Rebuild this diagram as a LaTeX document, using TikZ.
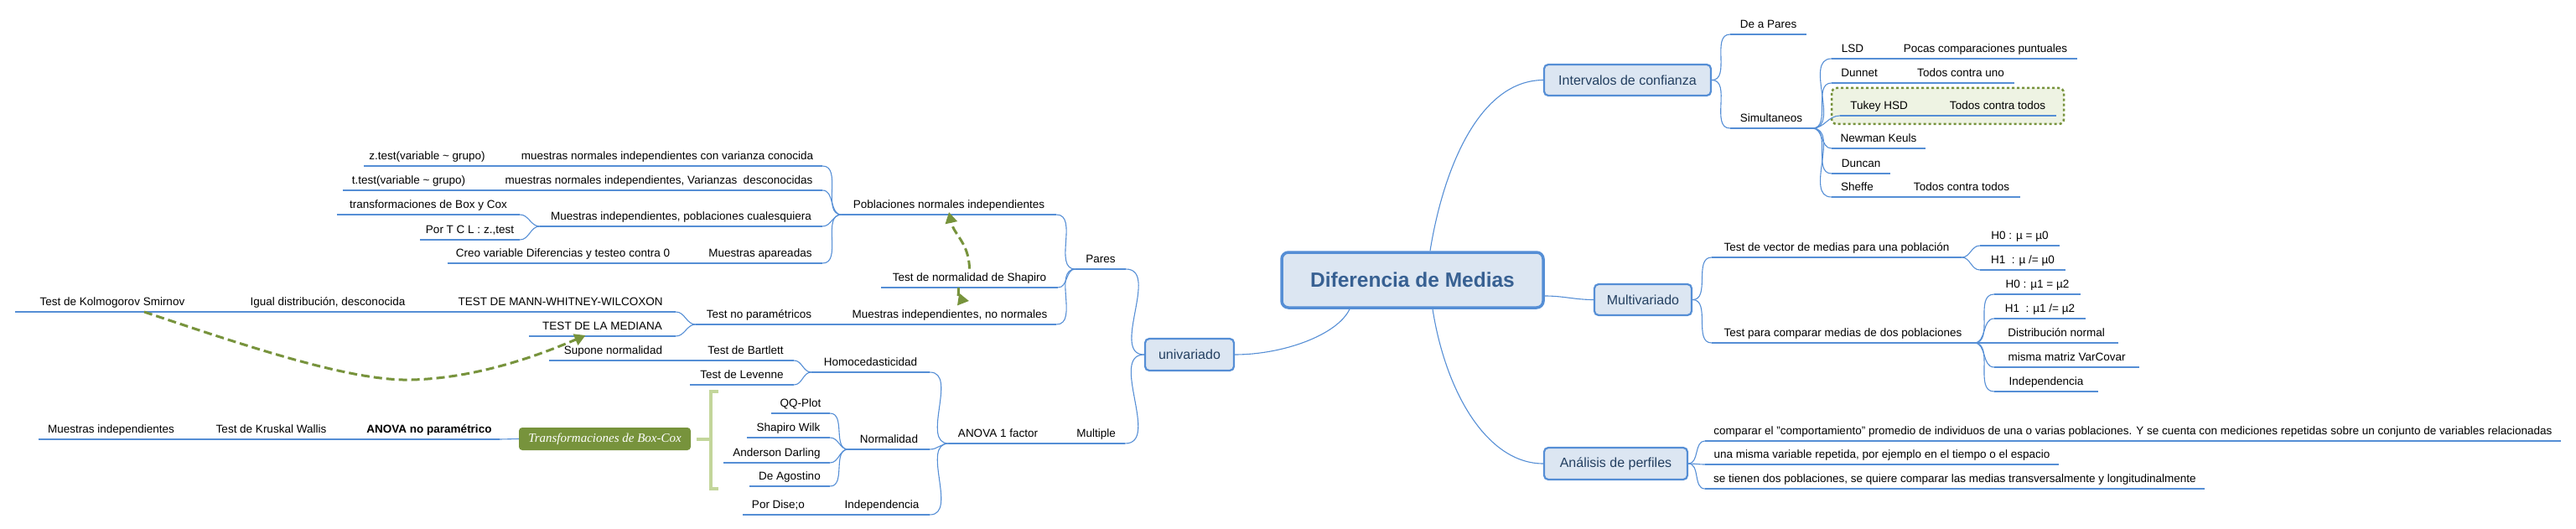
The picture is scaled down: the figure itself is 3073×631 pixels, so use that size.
\documentclass[tikz,border=0pt]{standalone}
\usepackage{fontspec}
\setmainfont{Liberation Sans}
\newfontfamily\serifit{Liberation Serif}
\usetikzlibrary{arrows.meta}
\definecolor{ublue}{RGB}{85,142,213}
\definecolor{boxfill}{RGB}{220,230,242}
\definecolor{boxtext}{RGB}{36,64,97}
\definecolor{maintext}{RGB}{55,96,146}
\definecolor{olive}{RGB}{119,147,60}
\definecolor{lightolive}{RGB}{195,214,155}
\definecolor{palegreen}{RGB}{238,243,227}

\begin{document}
\begin{tikzpicture}[x=1pt,y=-1pt,
  uline/.style={ublue, line width=2.8pt},
  conn/.style={ublue, line width=1.1pt},
  topic/.style={anchor=south, inner xsep=0pt, inner ysep=4.5pt, text height=10pt, text depth=3pt,
    font={\fontsize{13.5}{16}\selectfont},
    append after command={\pgfextra{\let\tnode\tikzlastnode}
      (\tnode.south west) edge[uline] (\tnode.south east)}},
  mainbox/.style={draw=ublue, line width=2.2pt, rounded corners=5pt, fill=boxfill, text=boxtext,
    inner sep=0pt, font={\fontsize{16}{19}\selectfont}},
  rootbox/.style={draw=ublue, line width=3.5pt, rounded corners=8pt, fill=boxfill, text=maintext,
    inner sep=0pt, font={\bfseries\fontsize{24.5}{29}\selectfont}},
  bcbox/.style={fill=olive, rounded corners=4pt, text=white, inner sep=0pt,
    font={\serifit\itshape\fontsize{15}{18}\selectfont}},
  garrow/.style={olive, line width=3pt, dash pattern=on 10pt off 5pt, -{Triangle[length=13pt,width=14pt]}}]

\useasboundingbox (0,0) rectangle (3073,631);

\draw[olive, line width=2.5pt, dash pattern=on 3pt off 3pt, fill=palegreen, rounded corners=6pt]
  (2185,105) rectangle (2462,148);

% centre and main boxes
\node[rootbox, minimum width=312, minimum height=66] (cbox) at (1685,334) {Diferencia de Medias};
\node[mainbox, minimum width=106, minimum height=38] (univ) at (1419,423) {univariado};
\node[mainbox, minimum width=199, minimum height=37] (interv) at (1941.5,95.5) {Intervalos de confianza};
\node[mainbox, minimum width=116, minimum height=37] (multi) at (1960,357.5) {Multivariado};
\node[mainbox, minimum width=171, minimum height=38] (perf) at (1927.5,553) {Análisis de perfiles};

% univariado
\node[topic, minimum width=60] (pares) at (1313,321) {Pares};
\node[topic, minimum width=69] (multiple) at (1307.5,529) {Multiple};
\node[topic, minimum width=256] (pobl) at (1132,256) {Poblaciones normales independientes};
\node[topic, minimum width=211] (shapiro) at (1156.5,343) {Test de normalidad de Shapiro};
\node[topic, minimum width=254] (nonorm) at (1133,387) {Muestras independientes, no normales};
\node[topic, minimum width=370] (conoc) at (796,198) {muestras normales independientes con varianza conocida};
\node[topic, minimum width=390] (desc) at (786,227) {muestras normales independientes, Varianzas\ \ desconocidas};
\node[topic, minimum width=337] (cualq) at (812.5,270) {Muestras independientes, poblaciones cualesquiera};
\node[topic, minimum width=148] (apar) at (907,314) {Muestras apareadas};
\node[topic, minimum width=151] (ztest) at (509.5,198) {z.test(variable \textasciitilde\ grupo)};
\node[topic, minimum width=157] (ttest) at (487.5,227) {t.test(variable \textasciitilde\ grupo)};
\node[topic, minimum width=218] (boxcox) at (511,256) {transformaciones de Box y Cox};
\node[topic, minimum width=119] (tcl) at (560.5,286) {Por T C L : z.,test};
\node[topic, minimum width=275] (difer) at (671.5,314) {Creo variable Diferencias y testeo contra 0};
\node[topic, minimum width=151] (nopar) at (905.5,387) {Test no paramétricos};
\node[topic, minimum width=275] (mww) at (668.5,372) {TEST DE MANN-WHITNEY-WILCOXON};
\node[topic, minimum width=175] (mediana) at (718.5,401) {TEST DE LA MEDIANA};
\node[topic, minimum width=232] (igual) at (391,372) {Igual distribución, desconocida};
\node[topic, minimum width=232] (kolmo) at (134,372) {Test de Kolmogorov Smirnov};

\node[topic, minimum width=117] (anova) at (1190.5,529) {ANOVA 1 factor};
\node[topic, minimum width=141] (homo) at (1038.5,444) {Homocedasticidad};
\node[topic, minimum width=97] (normal) at (1060.5,536) {Normalidad};
\node[topic, minimum width=114] (indep) at (1052,614) {Independencia};
\node[topic, minimum width=115] (bartlett) at (889.5,430) {Test de Bartlett};
\node[topic, minimum width=124] (levenne) at (885,459) {Test de Levenne};
\node[topic, minimum width=153] (supone) at (731.5,430) {Supone normalidad};
\node[topic, minimum width=70] (qq) at (955,493) {QQ-Plot};
\node[topic, minimum width=99] (swilk) at (940.5,522) {Shapiro Wilk};
\node[topic, minimum width=127] (ander) at (926.5,552) {Anderson Darling};
\node[topic, minimum width=96] (agost) at (942,580) {De Agostino};
\node[topic, minimum width=85] (disenio) at (928.5,614) {Por Dise;o};
\node[bcbox, minimum width=205, minimum height=27] (bcbox) at (721.5,523.5) {Transformaciones de Box-Cox};
\node[topic, minimum width=168] (anovanp) at (512,524) {\textbf{ANOVA no paramétrico}};
\node[topic, minimum width=159] (kruskal) at (323.5,524) {Test de Kruskal Wallis};
\node[topic, minimum width=173] (mindep) at (132.5,524) {Muestras independientes};

% intervalos
\node[topic, minimum width=91] (depares) at (2109.5,41) {De a Pares};
\node[topic, minimum width=98] (simult) at (2113,153) {Simultaneos};
\node[topic, minimum width=50] (lsd) at (2210,70) {LSD};
\node[topic, minimum width=219] (pocas) at (2368.5,70) {Pocas comparaciones puntuales};
\node[topic, minimum width=66] (dunnet) at (2218,99) {Dunnet};
\node[topic, minimum width=128] (uno) at (2339,99) {Todos contra uno};
\node[topic, minimum width=93] (tukey) at (2241.5,138) {Tukey HSD};
\node[topic, minimum width=140] (todos) at (2383,138) {Todos contra todos};
\node[topic, minimum width=112] (newman) at (2241,177) {Newman Keuls};
\node[topic, minimum width=70] (duncan) at (2220,207) {Duncan};
\node[topic, minimum width=61] (sheffe) at (2215.5,235) {Sheffe};
\node[topic, minimum width=140] (todosb) at (2340,235) {Todos contra todos};

% multivariado
\node[topic, minimum width=298] (vector) at (2191,307) {Test de vector de medias para una población};
\node[topic, minimum width=313] (compar) at (2198.5,409) {Test para comparar medias de dos poblaciones};
\node[topic, minimum width=95] (h0a) at (2409.5,293) {H0 : µ = µ0};
\node[topic, minimum width=102] (h1a) at (2413,322) {H1\ \ : µ /= µ0};
\node[topic, minimum width=103] (h0b) at (2430.5,351) {H0 : µ1 = µ2};
\node[topic, minimum width=109] (h1b) at (2433.5,380) {H1\ \ : µ1 /= µ2};
\node[topic, minimum width=148] (distr) at (2453,409) {Distribución normal};
\node[topic, minimum width=173] (matriz) at (2465.5,438) {misma matriz VarCovar};
\node[topic, minimum width=124] (indepb) at (2441,467) {Independencia};

% perfiles
\node[topic, minimum width=1021] (comp) at (2544.5,526) {comparar el "comportamiento" promedio de individuos de una o varias poblaciones. Y se cuenta con mediciones repetidas sobre un conjunto de variables relacionadas};
\node[topic, minimum width=422] (misma) at (2245,554) {una misma variable repetida, por ejemplo en el tiempo o el espacio};
\node[topic, minimum width=596] (tienen) at (2332,583) {se tienen dos poblaciones, se quiere comparar las medias transversalmente y longitudinalmente};

% connectors from the centre
\draw[conn] ([xshift=-75pt]cbox.south) .. controls (1595,400) and (1530,423) .. (univ.east);
\draw[conn] ([xshift=21pt]cbox.north) .. controls (1722,200) and (1765,96) .. (interv.west);
\draw[conn] ([yshift=-19pt]cbox.east) to[out=0,in=180] (multi.west);
\draw[conn] ([xshift=24pt]cbox.south) .. controls (1725,470) and (1775,553) .. (perf.west);

% left side
\foreach \c in {pares,multiple} \draw[conn] (univ.west) to[out=180,in=0] (\c.south east);
\foreach \c in {pobl,shapiro,nonorm} \draw[conn] (pares.south west) to[out=180,in=0] (\c.south east);
\foreach \c in {conoc,desc,cualq,apar} \draw[conn] (pobl.south west) to[out=180,in=0] (\c.south east);
\foreach \c in {boxcox,tcl} \draw[conn] (cualq.south west) to[out=180,in=0] (\c.south east);
\foreach \c in {mww,mediana} \draw[conn] (nopar.south west) to[out=180,in=0] (\c.south east);
\foreach \c in {homo,normal,indep} \draw[conn] (anova.south west) to[out=180,in=0] (\c.south east);
\foreach \c in {bartlett,levenne} \draw[conn] (homo.south west) to[out=180,in=0] (\c.south east);
\foreach \c in {qq,swilk,ander,agost} \draw[conn] (normal.south west) to[out=180,in=0] (\c.south east);
\draw[conn] (conoc.south west) -- (ztest.south east);
\draw[conn] (desc.south west) -- (ttest.south east);
\draw[conn] (apar.south west) -- (difer.south east);
\draw[conn] (nonorm.south west) -- (nopar.south east);
\draw[conn] (mww.south west) -- (igual.south east);
\draw[conn] (igual.south west) -- (kolmo.south east);
\draw[conn] (multiple.south west) -- (anova.south east);
\draw[conn] (bartlett.south west) -- (supone.south east);
\draw[conn] (indep.south west) -- (disenio.south east);
\draw[conn] (bcbox.west) -- (anovanp.south east);
\draw[conn] (anovanp.south west) -- (kruskal.south east);
\draw[conn] (kruskal.south west) -- (mindep.south east);

% right side
\foreach \c in {depares,simult} \draw[conn] (interv.east) to[out=0,in=180] (\c.south west);
\foreach \c in {lsd,dunnet,tukey,newman,duncan,sheffe} \draw[conn] (simult.south east) to[out=0,in=180] (\c.south west);
\draw[conn] (lsd.south east) -- (pocas.south west);
\draw[conn] (dunnet.south east) -- (uno.south west);
\draw[conn] (tukey.south east) -- (todos.south west);
\draw[conn] (sheffe.south east) -- (todosb.south west);
\foreach \c in {vector,compar} \draw[conn] (multi.east) to[out=0,in=180] (\c.south west);
\foreach \c in {h0a,h1a} \draw[conn] (vector.south east) to[out=0,in=180] (\c.south west);
\foreach \c in {h0b,h1b,distr,matriz,indepb} \draw[conn] (compar.south east) to[out=0,in=180] (\c.south west);
\foreach \c in {comp,misma,tienen} \draw[conn] (perf.east) to[out=0,in=180] (\c.south west);

% bracket round the normality tests
\draw[lightolive, line width=4pt] (857,467) -- (848,467) -- (848,583) -- (857,583);
\draw[lightolive, line width=4pt] ([xshift=7pt]bcbox.east) -- (848,523.5);

% dashed relations
\draw[garrow] ([xshift=38pt]kolmo.south) .. controls (300,415) and (420,455) .. (491,453)
  .. controls (570,451) and (645,423) .. ([xshift=-20pt,yshift=1pt]mediana.south);
\draw[garrow] (shapiro.north) .. controls (1156,290) and (1138,280) .. ([yshift=3pt]pobl.south);
\draw[garrow] ([xshift=-13pt]shapiro.south) .. controls (1143,357) .. (1156,359);
\end{tikzpicture}
\end{document}
